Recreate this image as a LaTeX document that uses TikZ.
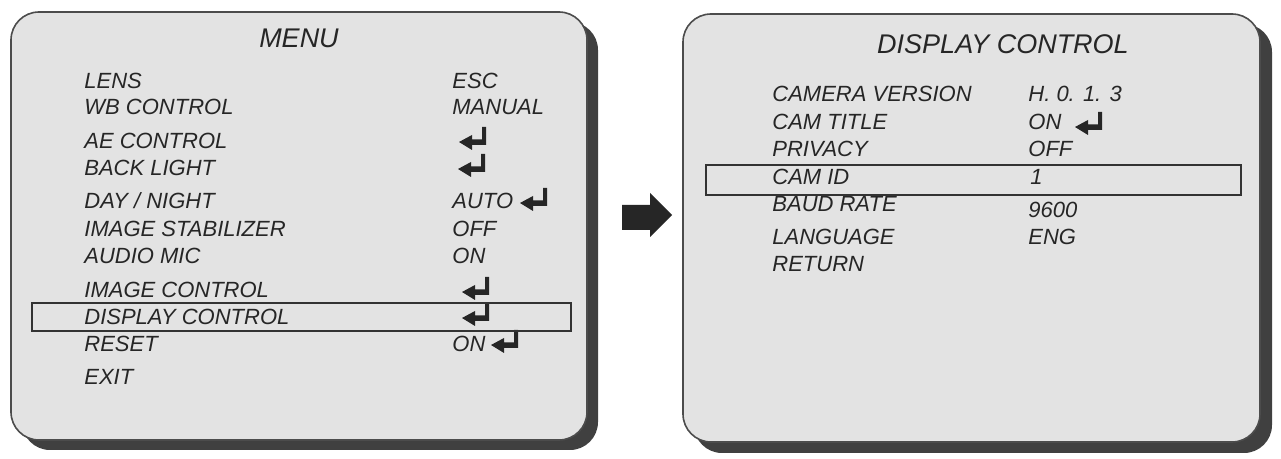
\documentclass[tikz,border=0pt]{standalone}
\usepackage{fontspec}
\setmainfont{Liberation Sans}
\usepackage{tikz}
\newcommand{\enterkey}[2]{\fill[black!85, shift={(#1,#2)}] (0,0) -- (13,-7) -- (13,-2.5) -- (23,-2.5) -- (23,-15) -- (27,-15) -- (27,3) -- (13,3) -- (13,8) -- cycle;}

\begin{document}
\begin{tikzpicture}[x=0.5pt, y=-0.5pt,
    panel/.style={fill=gray!22, draw=black!70, line width=0.8pt, rounded corners=14pt},
    shadow/.style={fill=black!75, rounded corners=14pt},
    hilite/.style={draw=black!80, line width=1.2pt},
    item/.style={anchor=base west, inner sep=0pt, text=black!85, font=\itshape\fontsize{11}{13}\selectfont},
    head/.style={anchor=base, inner sep=0pt, text=black!85, font=\itshape\fontsize{13.5}{16}\selectfont}]
    \useasboundingbox (0,0) rectangle (1281,459);
    \fill[white] (0,0) rectangle (1281,459);
    \fill[shadow] (22,22) rectangle (598,450);
    \draw[panel] (11,12) rectangle (587,440);
    \node[head] (menu) at (299,48) {MENU};
    \node[item] (lens) at (84,89) {LENS};
    \node[item] (wb) at (84,115) {WB CONTROL};
    \node[item] (ae) at (84,149) {AE CONTROL};
    \node[item] (blc) at (84,176) {BACK LIGHT};
    \node[item] (day) at (84,209) {DAY / NIGHT};
    \node[item] (stab) at (84,237) {IMAGE STABILIZER};
    \node[item] (mic) at (84,264) {AUDIO MIC};
    \node[item] (img) at (84,298) {IMAGE CONTROL};
    \node[item] (disp) at (84,325) {DISPLAY CONTROL};
    \node[item] (reset) at (84,352) {RESET};
    \node[item] (exit) at (84,385) {EXIT};
    \node[item] (lensv) at (452,89) {ESC};
    \node[item] (wbv) at (452,115) {MANUAL};
    \node[item] (dayv) at (452,209) {AUTO};
    \node[item] (stabv) at (452,237) {OFF};
    \node[item] (micv) at (452,264) {ON};
    \node[item] (resetv) at (452,352) {ON};
    \enterkey{459}{142}
    \enterkey{458}{169}
    \enterkey{520}{203}
    \enterkey{462}{292}
    \enterkey{462}{318}
    \enterkey{491}{345}
    \draw[hilite] (32,303) rectangle (571,331);
    \fill[black!85] (622,205) -- (650,205) -- (650,193) -- (672,215) -- (650,237) -- (650,230) -- (622,230) -- cycle;
    \fill[shadow] (694,24) rectangle (1272,453);
    \draw[panel] (683,14) rectangle (1260,442);
    \node[head] (dctl) at (1003,54) {DISPLAY CONTROL};
    \node[item] (ver) at (772,102) {CAMERA VERSION};
    \node[item] (title) at (772,130) {CAM TITLE};
    \node[item] (priv) at (772,157) {PRIVACY};
    \node[item] (camid) at (772,185) {CAM ID};
    \node[item] (baud) at (772,212) {BAUD RATE};
    \node[item] (lang) at (772,245) {LANGUAGE};
    \node[item] (ret) at (772,272) {RETURN};
    \node[item] (verv) at (1028,102) {H. 0. 1. 3};
    \node[item] (titlev) at (1028,130) {ON};
    \node[item] (privv) at (1028,157) {OFF};
    \node[item] (camidv) at (1030,185) {1};
    \node[item] (baudv) at (1028,218) {9600};
    \node[item] (langv) at (1028,245) {ENG};
    \enterkey{1075}{127}
    \draw[hilite] (706,165) rectangle (1241,195);
\end{tikzpicture}
\end{document}
